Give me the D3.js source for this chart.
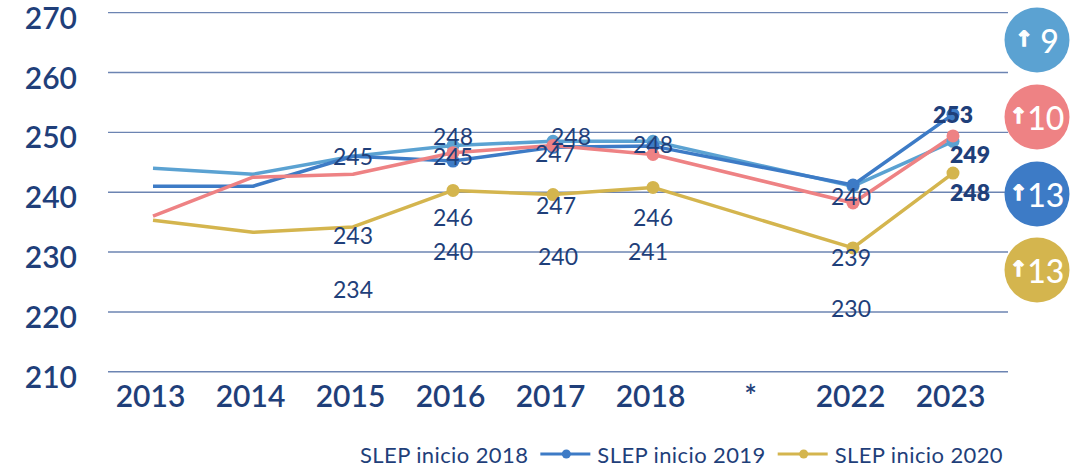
<!DOCTYPE html>
<html>
<head>
<meta charset="utf-8">
<script src="https://cdn.jsdelivr.net/npm/d3@7"></script>
<style>
  html, body { margin: 0; padding: 0; background: #ffffff; }
  svg { display: block; }
</style>
</head>
<body>
<svg id="chart" width="1076" height="467"></svg>
<script>
// ---------------- DATA ----------------
const categories = ["2013", "2014", "2015", "2016", "2017", "2018", "*", "2022", "2023"];
const yTicks = [210, 220, 230, 240, 250, 260, 270];

// four lines (null = no value for that category)
const valuesLightBlue = [244.0, 243.0, 246.0, 247.8, 248.5, 248.5, null, 241.0, 248.5];
const valuesMidBlue   = [241.0, 241.0, 246.0, 245.2, 247.5, 247.7, null, 241.2, 253.0];
const valuesPink      = [236.0, 242.5, 243.0, 246.6, 247.8, 246.3, null, 238.2, 249.4];
const valuesGold      = [235.3, 233.3, 234.2, 240.3, 239.6, 240.8, null, 230.7, 243.2];

// categories that carry point markers
const markerCategories = ["2016", "2017", "2018", "2022", "2023"];

// data labels as printed in the chart
const labelCategories = ["2015","2015","2015","2016","2016","2016","2016","2017","2017","2017","2017","2018","2018","2018","2022","2022","2022","2023","2023","2023"];
const labelTexts      = ["245","243","234","248","245","246","240","248","247","247","240","248","246","241","240","239","230","253","249","248"];
const labelAnchors    = [246.0, 232.9, 223.9, 249.4, 246.0, 235.8, 230.1, 249.4, 246.6, 237.8, 229.3, 248.0, 235.8, 230.1, 239.4, 229.1, 220.7, 253.0, 246.3, 240.0];
const labelBold       = [false,false,false,false,false,false,false,false,false,false,false,false,false,false,false,false,false,true,true,true];

// change badges on the right
const badgeValues = ["9", "10", "13", "13"];

// legend
const legendNames = ["SLEP inicio 2018", "SLEP inicio 2019", "SLEP inicio 2020"];

// ---------------- LAYOUT / STYLE ----------------
const navy = "#1f3f7a";
const colLightBlue = "#5ba2d2";
const colMidBlue = "#3d7bc6";
const colPink = "#ee8284";
const colGold = "#d4b54e";
const fontFamily = "Lato, 'Open Sans', 'DejaVu Sans', sans-serif";

const series = [
  { values: valuesLightBlue, color: colLightBlue },
  { values: valuesMidBlue,   color: colMidBlue },
  { values: valuesPink,      color: colPink },
  { values: valuesGold,      color: colGold }
];
const badgeColors = [colLightBlue, colPink, colMidBlue, colGold];
const badgeCenters = [40, 117, 194, 270];
const labelShift = [0,0,0,0,0,0,0,18,2,3,5,0,0,-5,-2,-2,-2,0,17,17];
const legendMarkers = [null, colMidBlue, colGold];

const svg = d3.select("#chart");

const x = d3.scalePoint().domain(categories).range([153, 953]);
const y = d3.scaleLinear().domain([210, 270]).range([371.8, 12.6]);

// gridlines
svg.append("g").selectAll("line")
  .data(yTicks).join("line")
  .attr("x1", 108).attr("x2", 1008)
  .attr("y1", d => y(d)).attr("y2", d => y(d))
  .attr("stroke", "#6c84b2").attr("stroke-width", 1.4);

// y axis labels
const yAxis = d3.axisLeft(y).tickValues(yTicks).tickSize(0).tickPadding(0).tickFormat(d3.format("d"));
const gy = svg.append("g").attr("transform", "translate(77,6)").call(yAxis);
gy.select(".domain").remove();
gy.selectAll("text")
  .attr("font-family", fontFamily).attr("font-size", 30).attr("font-weight", 600)
  .attr("fill", navy);

// x axis labels
const xAxis = d3.axisBottom(x).tickSize(0).tickPadding(0);
const gx = svg.append("g").attr("transform", "translate(-3,386)").call(xAxis);
gx.select(".domain").remove();
gx.selectAll("text")
  .attr("font-family", fontFamily).attr("font-size", 30).attr("font-weight", 600)
  .attr("fill", navy);

// lines
const line = d3.line().x(d => x(d.cat)).y(d => y(d.v));
series.forEach(s => {
  const pts = categories.map((c, i) => ({ cat: c, v: s.values[i] })).filter(p => p.v !== null);
  svg.append("path")
    .attr("d", line(pts))
    .attr("fill", "none")
    .attr("stroke", s.color)
    .attr("stroke-width", 3.5)
    .attr("stroke-linejoin", "round");
});
// markers
series.forEach(s => {
  const pts = categories.map((c, i) => ({ cat: c, v: s.values[i] }))
    .filter(p => p.v !== null && markerCategories.includes(p.cat));
  svg.append("g").selectAll("circle").data(pts).join("circle")
    .attr("cx", d => x(d.cat)).attr("cy", d => y(d.v)).attr("r", 6.5)
    .attr("fill", s.color);
});

// data labels
svg.append("g").selectAll("text")
  .data(labelTexts.map((t, i) => ({ t, cat: labelCategories[i], a: labelAnchors[i], b: labelBold[i], dx: labelShift[i] })))
  .join("text")
  .attr("x", d => x(d.cat) + d.dx)
  .attr("y", d => y(d.a))
  .attr("text-anchor", "middle")
  .attr("dominant-baseline", "central")
  .attr("font-family", fontFamily)
  .attr("font-size", 23)
  .attr("font-weight", d => d.b ? 800 : 400)
  .attr("fill", navy)
  .text(d => d.t);

// badges
const badges = svg.append("g").selectAll("g")
  .data(badgeValues.map((v, i) => ({ v, c: badgeColors[i], cy: badgeCenters[i] })))
  .join("g")
  .attr("transform", d => `translate(1037,${d.cy})`);
badges.append("circle").attr("r", 32.5).attr("fill", d => d.c);
const bt = badges.append("text")
  .attr("text-anchor", "middle")
  .attr("dominant-baseline", "central")
  .attr("fill", "#ffffff")
  .attr("font-family", fontFamily);
bt.append("tspan").attr("font-size", 21).attr("font-weight", 700).attr("font-family", "'DejaVu Sans', sans-serif")
  .attr("stroke", "#ffffff").attr("stroke-width", 1.3)
  .attr("dy", -1)
  .text(d => d.v.length === 1 ? "↑ " : "↑");
bt.append("tspan").attr("font-size", 32).attr("font-weight", 500).attr("dy", 1).text(d => d.v);

// legend
const legend = svg.append("g").attr("transform", "translate(0,454)");
let lx = 360;
legendNames.forEach((name, i) => {
  const mc = legendMarkers[i];
  if (mc) {
    legend.append("line").attr("x1", lx - 20).attr("x2", lx + 30).attr("y1", 0).attr("y2", 0)
      .attr("stroke", mc).attr("stroke-width", 3);
    legend.append("circle").attr("cx", lx + 6).attr("cy", 0).attr("r", 4.5).attr("fill", mc);
    lx += 37;
  }
  const t = legend.append("text").attr("x", lx).attr("y", 0)
    .attr("dominant-baseline", "central")
    .attr("font-family", fontFamily).attr("font-size", 22).attr("letter-spacing", 0.4)
    .attr("fill", navy)
    .text(name);
  lx += t.node().getComputedTextLength() + 32;
});
</script>
</body>
</html>
